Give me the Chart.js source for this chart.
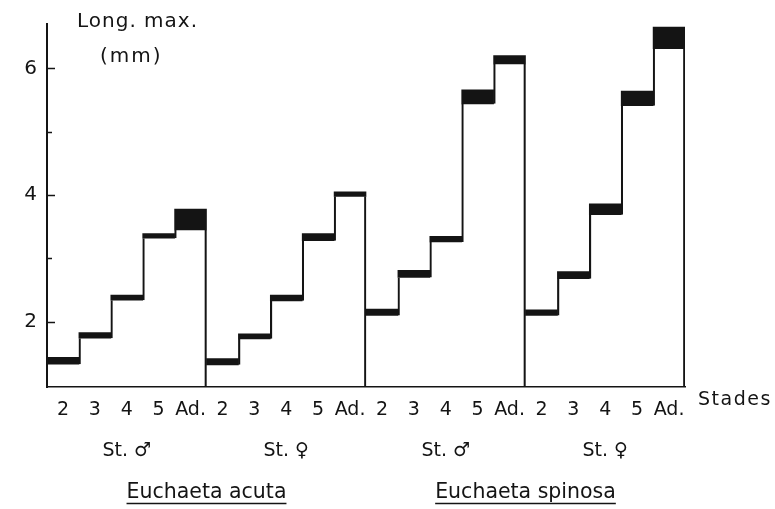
<!DOCTYPE html>
<html><head><meta charset="utf-8">
<script src="https://cdn.jsdelivr.net/npm/chart.js@4.4.0/dist/chart.umd.min.js"></script>
<style>html,body{margin:0;padding:0;background:#fff}#wrap{width:775px;height:509px}</style>
</head><body><div id="wrap"><canvas id="c" width="775" height="509"></canvas></div>
<script>
// ---- data ----
const stages = ['2', '3', '4', '5', 'Ad.'];
const groupLabels = ['St. ♂', 'St. ♀', 'St. ♂', 'St. ♀'];
const speciesLabels = ['Euchaeta acuta', 'Euchaeta spinosa'];
const minLength = [1.33, 1.74, 2.34, 3.32, 3.45,
                   1.32, 1.73, 2.33, 3.28, 3.98,
                   2.10, 2.70, 3.26, 5.44, 6.07,
                   2.10, 2.68, 3.69, 5.41, 6.31];
const maxLength = [1.44, 1.83, 2.42, 3.39, 3.78,
                   1.42, 1.81, 2.42, 3.39, 4.05,
                   2.20, 2.81, 3.35, 5.66, 6.20,
                   2.19, 2.79, 3.86, 5.64, 6.65];
const yTickValues = [2, 3, 4, 5, 6];
const yLabelled = [2, 4, 6];
const yTitle = ['Long. max.', '(mm)'];
const xTitle = 'Stades';
const baseValue = 0.97;
const yMax = 6.7;

// ---- derived ----
const categories = [];
groupLabels.forEach(() => stages.forEach(s => categories.push(s)));
const n = stages.length;
const bands = categories.map((c, i) => [minLength[i], maxLength[i]]);
const risers = categories.map((c, i) => i % n === 0 ? null : [minLength[i - 1], minLength[i]]);
const edges = categories.map((c, i) => i % n === n - 1 ? [baseValue, minLength[i]] : null);

const INK = '#141414';
const FONT = 'DejaVu Sans';

const decor = {
  id: 'decor',
  afterDraw(chart) {
    const ctx = chart.ctx;
    const y = chart.scales.y;
    const a = chart.chartArea;
    ctx.save();
    ctx.strokeStyle = INK;
    ctx.lineWidth = 1.5;
    yTickValues.forEach(v => {
      const py = Math.round(y.getPixelForValue(v)) + 0.5;
      const len = yLabelled.includes(v) ? 8 : 5;
      ctx.beginPath();
      ctx.moveTo(a.left, py);
      ctx.lineTo(a.left + len, py);
      ctx.stroke();
    });
    ctx.fillStyle = INK;
    ctx.textBaseline = 'alphabetic';
    ctx.font = '20px "' + FONT + '"';
    ctx.letterSpacing = '1px';
    ctx.fillText(yTitle[0], 77, 27);
    ctx.letterSpacing = '2px';
    ctx.fillText(yTitle[1], 100, 62);
    ctx.font = '19px "' + FONT + '"';
    ctx.letterSpacing = '1.5px';
    ctx.fillText(xTitle, a.right + 13, 405);
    ctx.letterSpacing = '0px';
    // underline species names
    const x3 = chart.scales.x3;
    ctx.font = '20.5px "' + FONT + '"';
    ctx.lineWidth = 1.5;
    speciesLabels.forEach((s, i) => {
      const cx = x3.getPixelForTick(i);
      const w = ctx.measureText(s).width;
      const uy = x3.top + 36.5;
      ctx.beginPath();
      ctx.moveTo(cx - w / 2, uy);
      ctx.lineTo(cx + w / 2, uy);
      ctx.stroke();
    });
    ctx.restore();
  }
};

new Chart(document.getElementById('c'), {
  type: 'bar',
  data: {
    labels: categories,
    datasets: [
      { label: 'range', data: bands, backgroundColor: INK, borderWidth: 0,
        grouped: false, categoryPercentage: 1, barPercentage: 1 },
      { label: 'risers', data: risers, backgroundColor: 'rgba(0,0,0,0)', borderColor: INK,
        borderWidth: { left: 1.5, right: 0, top: 0, bottom: 0 }, borderSkipped: false,
        grouped: false, categoryPercentage: 1, barPercentage: 1 },
      { label: 'edges', data: edges, backgroundColor: 'rgba(0,0,0,0)', borderColor: INK,
        borderWidth: { left: 0, right: 1.5, top: 0, bottom: 0 }, borderSkipped: false,
        grouped: false, categoryPercentage: 1, barPercentage: 1 }
    ]
  },
  options: {
    responsive: false,
    animation: false,
    devicePixelRatio: 1,
    layout: { padding: { top: 24, right: 90, left: 0, bottom: 0 } },
    plugins: { legend: { display: false }, tooltip: { enabled: false } },
    scales: {
      y: {
        min: baseValue, max: yMax,
        afterBuildTicks(s) { s.ticks = yTickValues.map(v => ({ value: v })); },
        afterFit(s) { s.width = 47; },
        grid: { display: false, drawTicks: false },
        border: { display: true, color: INK, width: 2 },
        ticks: { padding: 10, color: INK, font: { family: FONT, size: 20 },
          callback: v => yLabelled.includes(v) ? String(v) : '' }
      },
      x: {
        weight: 0,
        afterFit(s) { s.height = 36; },
        grid: { display: false, drawTicks: false },
        border: { display: true, color: INK, width: 1.5 },
        ticks: { padding: 12, color: INK, maxRotation: 0, autoSkip: false, font: { family: FONT, size: 19 } }
      },
      x2: {
        type: 'category', labels: groupLabels, position: 'bottom', weight: 1, offset: true,
        afterFit(s) { s.height = 44; },
        grid: { display: false, drawTicks: false },
        border: { display: false },
        ticks: { padding: 17, color: INK, maxRotation: 0, autoSkip: false, font: { family: FONT, size: 19 } }
      },
      x3: {
        type: 'category', labels: speciesLabels, position: 'bottom', weight: 2, offset: true,
        afterFit(s) { s.height = 42; },
        grid: { display: false, drawTicks: false },
        border: { display: false },
        ticks: { padding: 13, color: INK, maxRotation: 0, autoSkip: false, font: { family: FONT, size: 20.5 } }
      }
    }
  },
  plugins: [decor]
});
</script></body></html>
